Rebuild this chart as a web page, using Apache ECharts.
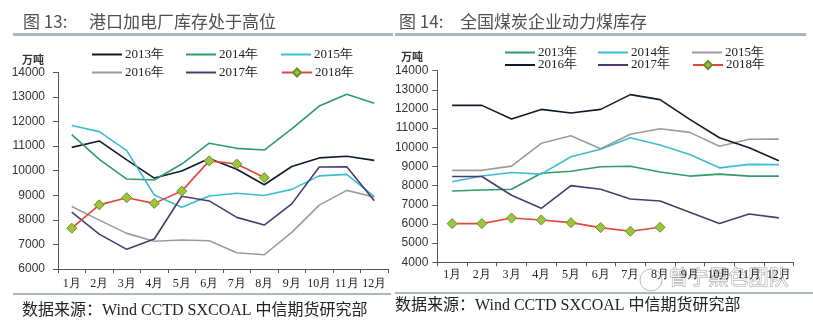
<!DOCTYPE html>
<html><head><meta charset="utf-8">
<script src="https://cdn.jsdelivr.net/npm/echarts/dist/echarts.min.js"></script>
<style>html,body{margin:0;padding:0;background:#fff}#c{width:813px;height:324px}</style>
</head><body><div id="c"></div>
<script>
const months = ['1月','2月','3月','4月','5月','6月','7月','8月','9月','10月','11月','12月'];
const years = ['2013年','2014年','2015年','2016年','2017年','2018年'];
const yTicksPort = [6000, 14000, 1000];
const yTicksNat = [4000, 14000, 1000];
// 图13 港口加电厂库存 (万吨)
const port2013 = [10950, 11210, 10440, 9700, 9990, 10500, 10060, 9430, 10170, 10520, 10590, 10420];
const port2014 = [11470, 10460, 9660, 9620, 10270, 11120, 10910, 10840, 11700, 12630, 13110, 12740];
const port2015 = [11840, 11590, 10820, 9010, 8510, 8970, 9080, 8990, 9240, 9790, 9850, 8950];
const port2016 = [8540, 7990, 7450, 7130, 7180, 7150, 6660, 6580, 7490, 8600, 9200, 8930];
const port2017 = [8310, 7420, 6800, 7220, 8960, 8770, 8100, 7790, 8650, 10150, 10160, 8780];
const port2018 = [7660, 8610, 8900, 8670, 9170, 10400, 10270, 9720];
// 图14 全国煤炭企业动力煤库存 (万吨)
const nat2013 = [7720, 7770, 7810, 8650, 8750, 8990, 9010, 8710, 8500, 8600, 8500, 8500];
const nat2014 = [8200, 8500, 8690, 8600, 9510, 9900, 10500, 10120, 9630, 8930, 9110, 9100];
const nat2015 = [8800, 8800, 9020, 10210, 10600, 9930, 10680, 10970, 10780, 10060, 10420, 10430];
const nat2016 = [12190, 12190, 11480, 11980, 11790, 11980, 12750, 12490, 11460, 10500, 9980, 9300];
const nat2017 = [8480, 8480, 7500, 6820, 8000, 7810, 7300, 7200, 6610, 6030, 6520, 6320];
const nat2018 = [6020, 6020, 6310, 6210, 6070, 5810, 5620, 5830];

const C = {black:'#111a2b', green:'#2f9a6a', cyan:'#3cbcd2', gray:'#9b9b9b', purple:'#4b3a6c', red:'#e6453c'};
const portData = [port2013, port2014, port2015, port2016, port2017, port2018];
const natData = [nat2013, nat2014, nat2015, nat2016, nat2017, nat2018];
const portColors = [C.black, C.green, C.cyan, C.gray, C.purple, C.red];
const natColors = [C.green, C.cyan, C.gray, C.black, C.purple, C.red];

function mkSeries(data, colors, suffix, idx){
  return data.map((d,i)=>{
    const is18 = i===5;
    return {
      name: years[i]+suffix, type:'line', xAxisIndex: idx, yAxisIndex: idx,
      data: d, color: colors[i],
      symbol: is18 ? 'diamond' : 'none', symbolSize: 10, showSymbol: is18,
      lineStyle:{width:1.6, color: colors[i]},
      itemStyle: is18 ? {color:'#9cc43c', borderColor:'#6a8f2a', borderWidth:1} : {color: colors[i]},
      z: is18 ? 10 : 2, animation:false
    };
  });
}
function mkLegends(suffix, xs, ys){
  return years.map((y,i)=>{
    const is18 = i===5;
    return {
      data: is18 ? [y+suffix] : [{name:y+suffix, icon:'rect'}],
      left: xs[i%3], top: ys[Math.floor(i/3)] - 5,
      itemWidth:30, itemHeight: is18 ? 10 : 2, itemGap:0, padding:0,
      formatter: n=>n.split('|')[0],
      textStyle:{fontFamily:'Liberation Serif', fontSize:13, color:'#222', padding:[0,0,0,-2]},
      selectedMode:false
    };
  });
}
const axisLab = {fontFamily:'Liberation Sans', fontSize:12, color:'#333', formatter: v=>String(v)};
function yAx(t, idx, margin){
  return {type:'value', gridIndex: idx, min:t[0], max:t[1], interval:t[2],
    axisLine:{show:true, lineStyle:{color:'#555', width:1}},
    axisTick:{show:true, length:5, lineStyle:{color:'#555'}},
    splitLine:{show:false}, axisLabel:Object.assign({margin:margin}, axisLab)};
}
function xAx(idx, margin){
  return {type:'category', gridIndex: idx, data: months, boundaryGap:true,
    axisLine:{lineStyle:{color:'#555', width:1}},
    axisTick:{show:true, length:4, alignWithLabel:false, lineStyle:{color:'#555'}},
    axisLabel:{margin:margin, fontFamily:'Liberation Serif', fontSize:12, color:'#222', interval:0}};
}
const titleStyle = {fontFamily:'Noto Sans CJK SC', fontSize:17, fill:'#505050'};
const footStyle = {fontFamily:'Liberation Serif, Noto Sans CJK SC', fontSize:16, fill:'#222'};
const chart = echarts.init(document.getElementById('c'));
chart.setOption({
  backgroundColor:'#fff', animation:false,
  grid:[
    {left:58, top:72.4, width:330, height:196.6},
    {left:437.3, top:70.7, width:356.4, height:191.6}
  ],
  xAxis:[xAx(0,9), xAx(1,7)],
  yAxis:[yAx(yTicksPort,0,13), yAx(yTicksNat,1,9)],
  legend: mkLegends('|L',[92,186,281],[53,71]).concat(mkLegends('|R',[505,598,692],[51,63.5])),
  series: mkSeries(portData, portColors, '|L', 0).concat(mkSeries(natData, natColors, '|R', 1)),
  graphic:[
    {type:'text', left:23, top:13, style:Object.assign({text:'图 13:'}, titleStyle)},
    {type:'text', left:89, top:13, style:Object.assign({text:'港口加电厂库存处于高位'}, titleStyle)},
    {type:'text', left:399, top:13, style:Object.assign({text:'图 14:'}, titleStyle)},
    {type:'text', left:460, top:13, style:Object.assign({text:'全国煤炭企业动力煤库存'}, titleStyle)},
    {type:'rect', shape:{x:13, y:33, width:380, height:3}, style:{fill:'#aeb6bd'}},
    {type:'rect', shape:{x:395, y:33, width:411, height:3}, style:{fill:'#aeb6bd'}},
    {type:'text', left:22, top:54, style:{text:'万吨', fontFamily:'Noto Sans CJK SC', fontSize:11, fontWeight:'bold', fill:'#333'}},
    {type:'text', left:401, top:51, style:{text:'万吨', fontFamily:'Noto Sans CJK SC', fontSize:11, fontWeight:'bold', fill:'#333'}},
    {type:'rect', shape:{x:13, y:293, width:378, height:2}, style:{fill:'#aeb6bd'}},
    {type:'rect', shape:{x:395, y:292, width:418, height:2}, style:{fill:'#aeb6bd'}},
    {type:'text', left:22, top:303, style:Object.assign({text:'数据来源：Wind CCTD SXCOAL 中信期货研究部'}, footStyle)},
    {type:'text', left:395, top:298, style:Object.assign({text:'数据来源：Wind CCTD SXCOAL 中信期货研究部'}, footStyle)},
    {type:'circle', shape:{cx:651, cy:280, r:11}, style:{fill:'rgba(255,255,255,0.6)', stroke:'#bbb', lineWidth:1}},
    {type:'text', left:668, top:267, style:{text:'曾宁黑色团队', fontFamily:'Noto Sans CJK SC', fontSize:20, fill:'rgba(255,255,255,0.85)', stroke:'#a0a0a0', lineWidth:1}}
  ]
});
</script></body></html>
